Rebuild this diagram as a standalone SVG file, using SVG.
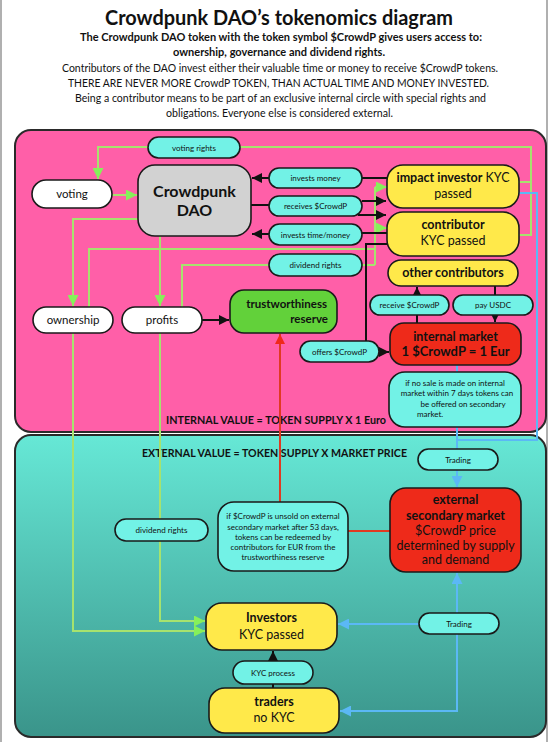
<svg xmlns="http://www.w3.org/2000/svg" width="560" height="742" viewBox="0 0 560 742">
<defs>
<linearGradient id="tealg" x1="0" y1="0" x2="0" y2="1">
<stop offset="0" stop-color="#66E8D6"/>
<stop offset="1" stop-color="#3A948A"/>
</linearGradient>
<marker id="ab" viewBox="0 0 10 10" refX="10" refY="5" markerWidth="10" markerHeight="10" markerUnits="userSpaceOnUse" orient="auto"><path d="M0,0 L10,5 L0,10 z" fill="#111"/></marker>
<marker id="ag" viewBox="0 0 10 10" refX="10" refY="5" markerWidth="11" markerHeight="11" markerUnits="userSpaceOnUse" orient="auto"><path d="M0,0 L10,5 L0,10 z" fill="#86F05A"/></marker>
<marker id="ar" viewBox="0 0 10 10" refX="10" refY="5" markerWidth="10" markerHeight="10" markerUnits="userSpaceOnUse" orient="auto"><path d="M0,0 L10,5 L0,10 z" fill="#F0281A"/></marker>
<marker id="abl" viewBox="0 0 10 10" refX="10" refY="5" markerWidth="11" markerHeight="11" markerUnits="userSpaceOnUse" orient="auto"><path d="M0,0 L10,5 L0,10 z" fill="#5BB8F5"/></marker>
<style>
text{font-family:Lato,"Noto Sans","Liberation Sans",sans-serif;fill:#111;}
.h{font-size:10.5px;text-anchor:middle;}
.b{font-weight:700;}
.pill{fill:#72F2E6;stroke:#1a1a1a;stroke-width:1.6;}
.pt{font-size:8px;text-anchor:middle;}
.wn{fill:#fff;stroke:#1a1a1a;stroke-width:1.6;}
.yn{fill:#FFE94A;stroke:#1a1a1a;stroke-width:1.6;}
.rn{fill:#EE2A1A;stroke:#1a1a1a;stroke-width:1.6;}
.nt{font-size:11.5px;text-anchor:middle;}
.yt{font-size:12.5px;text-anchor:middle;}
.g{fill:none;stroke:#A6E36E;stroke-width:2;}
.k{fill:none;stroke:#111;stroke-width:2;}
.r{fill:none;stroke:#E03A22;stroke-width:2;}
.bl{fill:none;stroke:#5BB8F5;stroke-width:2;}
.note{font-size:8px;text-anchor:middle;}
</style>
</defs>
<rect x="0" y="0" width="560" height="742" fill="#fff"/>
<rect x="1" y="-2" width="546" height="746" fill="none" stroke="#b0b0b0" stroke-width="2"/>

<g id="header">
<text x="279" y="25" font-size="20" font-weight="700" text-anchor="middle" textLength="348" lengthAdjust="spacingAndGlyphs">Crowdpunk DAO’s tokenomics diagram</text>
<text class="h b" x="281" y="41" textLength="402" lengthAdjust="spacingAndGlyphs">The Crowdpunk DAO token with the token symbol $CrowdP gives users access to:</text>
<text class="h b" x="279" y="56" textLength="212" lengthAdjust="spacingAndGlyphs">ownership, governance and dividend rights.</text>
<text class="h" x="280" y="72" textLength="436" lengthAdjust="spacingAndGlyphs">Contributors of the DAO invest either their valuable time or money to receive $CrowdP tokens.</text>
<text class="h" x="278.5" y="87" textLength="421" lengthAdjust="spacingAndGlyphs">THERE ARE NEVER MORE CrowdP TOKEN, THAN ACTUAL TIME AND MONEY INVESTED.</text>
<text class="h" x="280.5" y="102" textLength="411" lengthAdjust="spacingAndGlyphs">Being a contributor means to be part of an exclusive internal circle with special rights and</text>
<text class="h" x="279.5" y="117" textLength="227" lengthAdjust="spacingAndGlyphs">obligations. Everyone else is considered external.</text>
</g>

<g id="panels">
<rect x="15" y="130" width="531" height="302" rx="16" fill="#FF5FA8" stroke="#2a2a2a" stroke-width="2"/>
<rect x="15" y="435" width="531" height="302" rx="16" fill="url(#tealg)" stroke="#2a2a2a" stroke-width="2"/>
<text x="166" y="424" font-size="11" font-weight="700" textLength="220" lengthAdjust="spacingAndGlyphs">INTERNAL VALUE = TOKEN SUPPLY X 1 Euro</text>
<text x="142" y="457" font-size="11" font-weight="700" textLength="265" lengthAdjust="spacingAndGlyphs">EXTERNAL VALUE = TOKEN SUPPLY X MARKET PRICE</text>
</g>

<g id="connectors">
<!-- green -->
<path class="g" d="M519,182 H531"/>
<path class="g" d="M519,235 H531 V147 H240"/>
<path class="g" d="M148,147 H98 V179" marker-end="url(#ag)"/>
<path class="g" d="M112,195 H137" marker-end="url(#ag)"/>
<path class="g" d="M138,219 H73 V306" marker-end="url(#ag)"/>
<path class="g" d="M160,236 V306" marker-end="url(#ag)"/>
<path class="g" d="M89,307 V249 H375"/>
<path class="g" d="M375,265 V187"/>
<path class="g" d="M375,187 H387" marker-end="url(#ag)"/>
<path class="g" d="M375,228 H387" marker-end="url(#ag)"/>
<path class="g" d="M182,307 V265 H269"/>
<path class="g" d="M362,265 H375"/>
<path class="g" d="M73,333 V631 H205" marker-end="url(#ag)"/>
<path class="g" d="M160,333 V621 H205" marker-end="url(#ag)"/>
<!-- black -->
<path class="k" d="M387,178 H362"/>
<path class="k" d="M269,178 H252" marker-end="url(#ab)"/>
<path class="k" d="M251,205 H269"/>
<path class="k" d="M362,201 H386" marker-end="url(#ab)"/>
<path class="k" d="M358,215 H386" marker-end="url(#ab)"/>
<path class="k" d="M387,233 H362"/>
<path class="k" d="M269,234 H252" marker-end="url(#ab)"/>
<path class="k" d="M387,244 H366 V341"/>
<path class="k" d="M379,352 H389" marker-end="url(#ab)"/>
<path class="k" d="M202,320 H229" marker-end="url(#ab)"/>
<path class="k" d="M417,323 V315"/>
<path class="k" d="M417,295 V287" marker-end="url(#ab)"/>
<path class="k" d="M495,286 V295"/>
<path class="k" d="M495,315 V322" marker-end="url(#ab)"/>
<path class="k" d="M273,688 V684"/>
<path class="k" d="M273,661 V651" marker-end="url(#ab)"/>
<!-- red -->
<path class="r" d="M280,502 V334" marker-end="url(#ar)"/>
<path class="r" d="M348,531 H390"/>
<!-- blue -->
<path class="bl" d="M519,193 H537 V440 H457"/>
<path class="bl" d="M457,365 V449"/>
<path class="bl" d="M457,470 V487" marker-end="url(#abl)"/>
<path class="bl" d="M457,613 V573" marker-end="url(#abl)"/>
<path class="bl" d="M419,624 H338" marker-end="url(#abl)"/>
<path class="bl" d="M457,634 V711 H340" marker-end="url(#abl)"/>
</g>

<g id="voting-rights"><rect class="pill" x="148" y="137" width="92" height="21" rx="10.5"/><text class="pt" x="194" y="150.5">voting rights</text></g>
<g id="voting"><rect class="wn" x="32" y="180" width="80" height="28" rx="14"/><text class="nt" x="72" y="198">voting</text></g>
<g id="dao"><rect x="138" y="165" width="113" height="71" rx="17" fill="#D2D2D2" stroke="#1a1a1a" stroke-width="1.6"/><text x="194.5" y="197" font-size="16" font-weight="700" text-anchor="middle">Crowdpunk</text><text x="194.5" y="216" font-size="16" font-weight="700" text-anchor="middle">DAO</text></g>
<g id="invests-money"><rect class="pill" x="269" y="168" width="93" height="20" rx="10"/><text class="pt" x="315.5" y="181">invests money</text></g>
<g id="receives-crowdp"><rect class="pill" x="269" y="196" width="93" height="20" rx="10"/><text class="pt" x="315.5" y="209">receives $CrowdP</text></g>
<g id="invests-time"><rect class="pill" x="269" y="224" width="93" height="21" rx="10.5"/><text class="pt" x="315.5" y="237.5">invests time/money</text></g>
<g id="dividend-rights-top"><rect class="pill" x="269" y="254" width="93" height="22" rx="11"/><text class="pt" x="315.5" y="268">dividend rights</text></g>
<g id="impact-investor"><rect class="yn" x="387" y="165" width="132" height="43" rx="16"/><text class="yt" x="453" y="182"><tspan font-weight="700">impact investor</tspan> KYC</text><text class="yt" x="453" y="198">passed</text></g>
<g id="contributor"><rect class="yn" x="387" y="212" width="132" height="44" rx="16"/><text class="yt b" x="453" y="229">contributor</text><text class="yt" x="453" y="245">KYC passed</text></g>
<g id="other-contributors"><rect class="yn" x="388" y="260" width="130" height="26" rx="13"/><text class="yt b" x="453" y="277">other contributors</text></g>
<g id="receive-crowdp"><rect class="pill" x="370" y="295" width="79" height="20" rx="10"/><text class="pt" x="409.5" y="308">receive $CrowdP</text></g>
<g id="pay-usdc"><rect class="pill" x="453" y="295" width="80" height="20" rx="10"/><text class="pt" x="493" y="308">pay USDC</text></g>
<g id="internal-market"><rect class="rn" x="390" y="323" width="131" height="42" rx="14"/><text x="455.5" y="340.5" font-size="12.5" font-weight="700" text-anchor="middle">internal market</text><text x="455.5" y="356" font-size="13" font-weight="700" text-anchor="middle">1 $CrowdP = 1 Eur</text></g>
<g id="offers-crowdp"><rect class="pill" x="300" y="341" width="79" height="21" rx="10.5"/><text class="pt" x="339.5" y="354.5">offers $CrowdP</text></g>
<g id="no-sale-note"><rect class="pill" x="389" y="372" width="132" height="55" rx="16"/><text class="note" x="455" y="386">if no sale is made on internal</text><text class="note" x="457" y="396">market within 7 days tokens can</text><text class="note" x="463" y="407">be offered on secondary</text><text x="417" y="417" font-size="8">market.</text></g>
<g id="ownership"><rect class="wn" x="33" y="307" width="80" height="26" rx="13"/><text class="nt" x="73" y="324">ownership</text></g>
<g id="profits"><rect class="wn" x="122" y="307" width="80" height="26" rx="13"/><text class="nt" x="162" y="324">profits</text></g>
<g id="trust-reserve"><rect x="230" y="290" width="107" height="43" rx="14" fill="#62D13A" stroke="#1a1a1a" stroke-width="1.6"/><text x="327" y="308" font-size="11.5" font-weight="700" text-anchor="end">trustworthiness</text><text x="328" y="323" font-size="11.5" font-weight="700" text-anchor="end">reserve</text></g>
<g id="trading-1"><rect class="pill" x="418" y="449" width="80" height="21" rx="10.5"/><text class="pt" x="458" y="462.5">Trading</text></g>
<g id="external-market"><rect class="rn" x="390" y="488" width="131" height="84" rx="16"/><text class="yt b" x="455.5" y="504">external</text><text class="yt b" x="455.5" y="520">secondary market</text><text class="yt" x="455.5" y="534.5">$CrowdP price</text><text class="yt" x="455.5" y="550">determined by supply</text><text class="yt" x="455.5" y="564">and demand</text></g>
<g id="unsold-note"><rect class="pill" x="218" y="502" width="130" height="69" rx="16"/><text class="note" x="283" y="519">if $CrowdP is unsold on external</text><text class="note" x="283" y="530">secondary market after 53 days,</text><text class="note" x="283" y="540">tokens can be redeemed by</text><text class="note" x="283" y="550">contributors for EUR from the</text><text class="note" x="283" y="560">trustworthiness reserve</text></g>
<g id="dividend-rights-bottom"><rect class="pill" x="115" y="519" width="93" height="22" rx="11"/><text class="pt" x="161.5" y="533">dividend rights</text></g>
<g id="trading-2"><rect class="pill" x="419" y="613" width="80" height="21" rx="10.5"/><text class="pt" x="459" y="626.5">Trading</text></g>
<g id="investors"><rect class="yn" x="206" y="603" width="131" height="47" rx="16"/><text class="yt b" x="271.5" y="622">Investors</text><text class="yt" x="271.5" y="639">KYC passed</text></g>
<g id="kyc-process"><rect class="pill" x="233" y="661" width="80" height="23" rx="11.5"/><text class="pt" x="273" y="675.5">KYC process</text></g>
<g id="traders"><rect class="yn" x="209" y="688" width="130" height="45" rx="16"/><text class="yt b" x="274" y="706">traders</text><text class="yt" x="274" y="722">no KYC</text></g>
</svg>
